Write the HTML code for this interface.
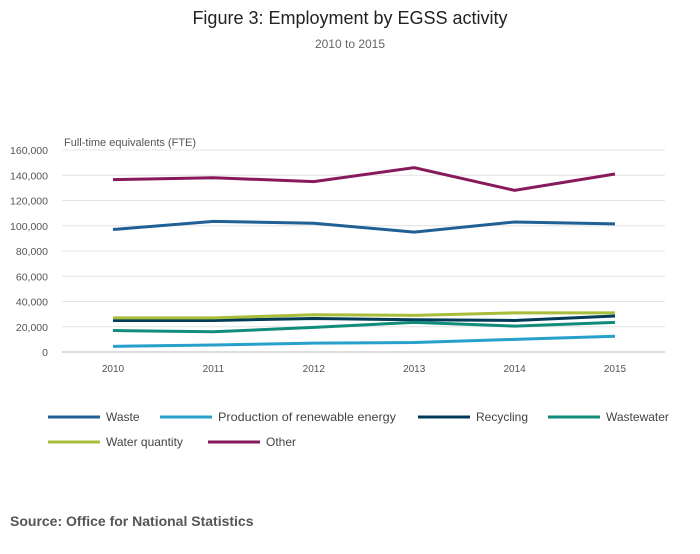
<!DOCTYPE html>
<html><head><meta charset="utf-8"><style>
body{margin:0;background:#fff;font-family:"Liberation Sans",sans-serif;}
svg text{font-family:"Liberation Sans",sans-serif;}
</style></head><body>
<svg id="c" width="700" height="549">
<text x="350" y="24" text-anchor="middle" font-size="18" fill="#222">Figure 3: Employment by EGSS activity</text>
<text x="350" y="48" text-anchor="middle" font-size="12" fill="#666">2010 to 2015</text>
<text x="64" y="146" font-size="11" fill="#555">Full-time equivalents (FTE)</text>
<g id="grid"></g><g id="lines"></g><g id="legend"></g>
<text x="10" y="526" font-size="14" font-weight="bold" fill="#555">Source: Office for National Statistics</text>
</svg>
<script>
const years=["2010","2011","2012","2013","2014","2015"];
const yTicks=[0,20000,40000,60000,80000,100000,120000,140000,160000];
const waste=[97000,103500,102000,95000,103000,101500];
const renewable=[4500,5500,7000,7500,10000,12500];
const recycling=[25000,25000,26500,25500,25000,28500];
const wastewater=[17000,16000,19500,23500,20500,23500];
const waterQuantity=[27000,27000,29500,29000,31000,31000];
const other=[136500,138000,135000,146000,128000,141000];
const series=[
 {name:"Waste",v:waste,c:"#206095",id:"waste"},
 {name:"Production of renewable energy",v:renewable,c:"#27a0cc",id:"renewable"},
 {name:"Recycling",v:recycling,c:"#003c57",id:"recycling"},
 {name:"Wastewater",v:wastewater,c:"#118c7b",id:"wastewater"},
 {name:"Water quantity",v:waterQuantity,c:"#a8bd3a",id:"water-quantity"},
 {name:"Other",v:other,c:"#871a5b",id:"other"}];
const NS="http://www.w3.org/2000/svg";
const X=i=>113+i*100.4, Y=v=>352-v*202/160000;
function mk(t,a,p){const e=document.createElementNS(NS,t);for(const k in a)e.setAttribute(k,a[k]);p.appendChild(e);return e;}
const g=document.getElementById("grid");
yTicks.forEach(t=>{
 const l=mk("line",{x1:62,x2:665,y1:Y(t),y2:Y(t),stroke:t?"#e4e4e4":"#bbb"},g);
 
 
 const tx=mk("text",{x:48,y:Y(t)+4,"text-anchor":"end","font-size":10.5,fill:"#555"},g);tx.textContent=t.toLocaleString("en-GB");
 
 
});
years.forEach((y,i)=>{
 const tx=mk("text",{x:X(i),y:372,"text-anchor":"middle","font-size":10,fill:"#555"},g);tx.textContent=y;
 
 
});
const L=document.getElementById("lines");
series.forEach(s=>{
 const p=mk("polyline",{points:s.v.map((v,i)=>X(i)+","+Y(v)).join(" "),fill:"none",stroke:s.c,"stroke-width":3},L);
 
 
});
const lg=document.getElementById("legend");
const pos=[[48,417],[160,417],[418,417],[548,417],[48,442],[208,442]];
series.forEach((s,i)=>{
 const [x,y]=pos[i];
 const gg=mk("g",{},lg);
 
 
 mk("line",{x1:x,x2:x+52,y1:y,y2:y,stroke:s.c,"stroke-width":3},gg);
 const t=mk("text",{x:x+58,y:y+4,"font-size":12,fill:"#444"},gg);t.textContent=s.name;
 if(i===1){t.setAttribute("textLength","178");t.setAttribute("lengthAdjust","spacingAndGlyphs");}
});
</script>
</body></html>
